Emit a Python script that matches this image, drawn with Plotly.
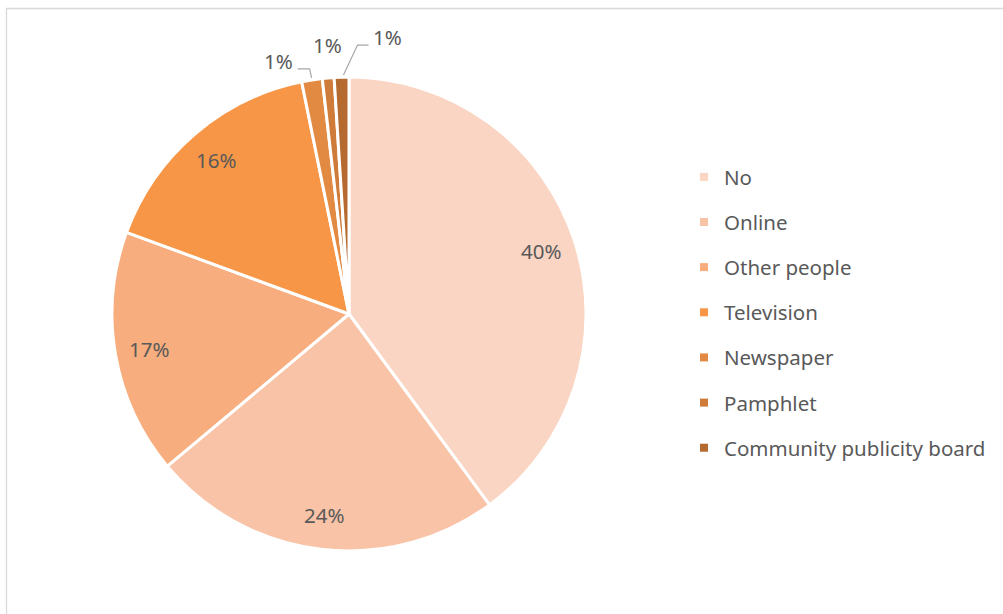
import math
import plotly.graph_objects as go

# Source of information (share of respondents, %)
categories = ["No", "Online", "Other people", "Television", "Newspaper",
              "Pamphlet", "Community publicity board"]
shares = [39.9, 24.0, 16.7, 16.2, 1.4, 0.8, 1.0]
colors = ["#FAD5C3", "#F9C3A7", "#F7AD7E", "#F79646", "#E38A42",
          "#CF7B3A", "#B56A30"]

W, H = 1003, 614
CX, CY, R = 349, 314, 237          # pie centre / radius in pixels
FONT = "Noto Sans, Open Sans, sans-serif"
FS = 20.5
TXT = "#595959"


def px(x):
    return x / W


def py(y):
    return 1 - y / H


fig = go.Figure()

fig.add_trace(go.Pie(
    labels=categories,
    values=shares,
    sort=False,
    direction="clockwise",
    rotation=0,
    marker=dict(colors=colors, line=dict(color="white", width=3)),
    textinfo="none",
    hoverinfo="label+percent",
    showlegend=False,
    domain=dict(x=[px(CX - R), px(CX + R)], y=[py(CY + R), py(CY - R)]),
))

# legend entries (one per category)
for name, col in zip(categories, colors):
    fig.add_trace(go.Scatter(
        x=[None], y=[None], mode="markers", name=name, legendgroup=name,
        marker=dict(symbol="square", size=8, color=col),
    ))

# percentage labels placed along each slice's mid angle
total = sum(shares)
cum = 0.0
# label offsets for the thin slices: (dx, dy) from the slice's outer edge
small_offsets = {4: (-33, -17), 5: (-1, -31), 6: (46, -38)}
annotations = []
shapes = []
for i, v in enumerate(shares):
    mid = (cum + v / 2) / total * 2 * math.pi
    cum += v
    label = f"{round(v / total * 100):.0f}%"
    if i not in small_offsets:
        r = 0.855 * R
        lx = CX + r * math.sin(mid)
        ly = CY - r * math.cos(mid)
    else:
        ex = CX + (R + 2) * math.sin(mid)
        ey = CY - (R + 2) * math.cos(mid)
        dx, dy = small_offsets[i]
        lx, ly = ex + dx, ey + dy
        if i == 4:
            pts = [(ex, ey), (ex - 2, ly + 8), (lx + 19, ly + 8)]
        elif i == 6:
            pts = [(ex + 2, ey), (lx - 30, ly + 8), (lx - 19, ly + 8)]
        else:
            pts = []
        if pts:
            path = "M " + " L ".join(f"{px(a)},{py(b)}" for a, b in pts)
            shapes.append(dict(type="path", path=path, xref="paper", yref="paper",
                               line=dict(color="#A6A6A6", width=1.2)))
    annotations.append(dict(x=px(lx), y=py(ly), xref="paper", yref="paper",
                            xanchor="center", yanchor="middle",
                            text=label, showarrow=False,
                            font=dict(size=FS, color=TXT, family=FONT)))

# chart-area border
shapes.append(dict(type="rect", xref="paper", yref="paper",
                   x0=px(6.5), x1=1.02, y0=-0.02, y1=py(8.5),
                   line=dict(color="#D9D9D9", width=1.3), fillcolor="rgba(0,0,0,0)"))

fig.update_layout(
    width=W, height=H,
    margin=dict(l=0, r=0, t=0, b=0),
    paper_bgcolor="white", plot_bgcolor="white",
    xaxis=dict(visible=False), yaxis=dict(visible=False),
    annotations=annotations,
    shapes=shapes,
    legend=dict(x=px(684), y=py(157), xanchor="left", yanchor="top",
                font=dict(size=FS, color=TXT, family=FONT),
                tracegroupgap=15.5, itemwidth=30, bgcolor="rgba(0,0,0,0)"),
    font=dict(family=FONT, color=TXT),
)

fig.write_html("out.html")
